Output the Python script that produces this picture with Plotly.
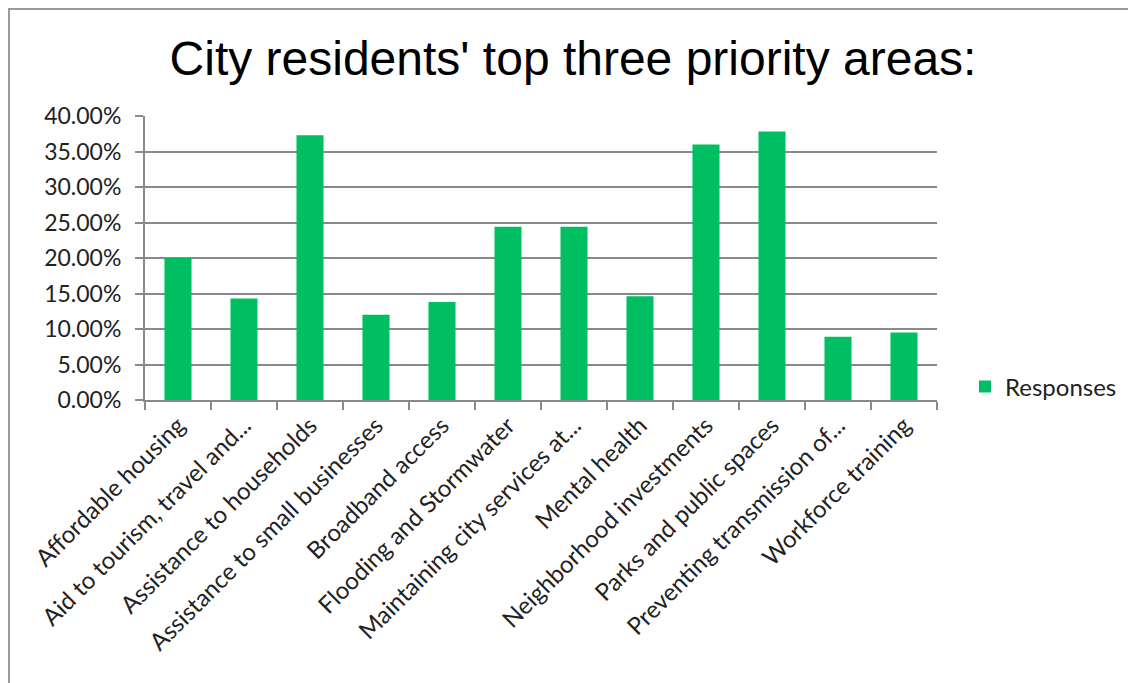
import plotly.graph_objects as go

categories = [
    "Affordable housing",
    "Aid to tourism, travel and...",
    "Assistance to households",
    "Assistance to small businesses",
    "Broadband access",
    "Flooding and Stormwater",
    "Maintaining city services at...",
    "Mental health",
    "Neighborhood investments",
    "Parks and public spaces",
    "Preventing transmission of...",
    "Workforce training",
]
responses = [0.200, 0.143, 0.373, 0.120, 0.138, 0.244, 0.244, 0.146, 0.360, 0.378, 0.089, 0.095]
series_name = "Responses"
title_text = "City residents' top three priority areas:"

# page has an 8px body margin: figure pixel = reference pixel - 8
OFF = 8
W, H = 1136 - OFF, 683 - OFF
PL, PR, PT, PB = 145 - OFF, 937 - OFF, 116 - OFF, 400 - OFF  # plot area in figure px
ML, MR, MT, MB = PL, W - PR, PT, H - PB
PW, PH = PR - PL, PB - PT


def px_x(ref_px):
    return (ref_px - OFF - PL) / PW


def px_y(ref_py):
    return (PB - (ref_py - OFF)) / PH


GREEN = "#00BF63"
GRID = "#8a8a8a"
FONT = "Lato"

fig = go.Figure()
fig.add_trace(go.Bar(x=categories, y=responses, name=series_name,
                     marker=dict(color=GREEN, line=dict(width=0))))

fig.update_layout(
    width=W, height=H,
    margin=dict(l=ML, r=MR, t=MT, b=MB, autoexpand=False),
    paper_bgcolor="white", plot_bgcolor="white",
    bargap=0.59,
    showlegend=True,
    font=dict(family=FONT, size=24, color="#222222"),
    title=dict(text=title_text, x=(573 - OFF) / W, xref="container", xanchor="center",
               y=1 - (58 - OFF) / H, yref="container", yanchor="middle",
               font=dict(family="Liberation Sans", size=48, color="#000000")),
    legend=dict(x=px_x(965), y=px_y(387), xanchor="left", yanchor="middle",
                xref="paper", yref="paper",
                font=dict(family=FONT, size=24, color="#222222"),
                bgcolor="rgba(0,0,0,0)"),
    xaxis=dict(type="category", tickangle=-45, tickson="boundaries",
               ticks="outside", ticklen=8, tickcolor=GRID, tickwidth=2,
               showline=True, linecolor=GRID, linewidth=2,
               showgrid=False, tickfont=dict(family=FONT, size=24, color="#222222")),
    yaxis=dict(range=[0, 0.40], dtick=0.05, tickformat=".2%",
               ticks="outside", ticklen=8, tickcolor=GRID, tickwidth=2,
               showline=True, linecolor=GRID, linewidth=2,
               showgrid=True, gridcolor=GRID, gridwidth=2,
               zeroline=False, ticklabelstandoff=9,
               tickfont=dict(family=FONT, size=23, color="#222222")),
    shapes=[
        dict(type="line", xref="paper", yref="paper",
             x0=px_x(8), x1=px_x(1140), y0=px_y(9), y1=px_y(9),
             line=dict(color="#9a9a9a", width=2)),
        dict(type="line", xref="paper", yref="paper",
             x0=px_x(9), x1=px_x(9), y0=px_y(8), y1=px_y(690),
             line=dict(color="#9a9a9a", width=2)),
    ],
)

fig.write_html("out.html")
